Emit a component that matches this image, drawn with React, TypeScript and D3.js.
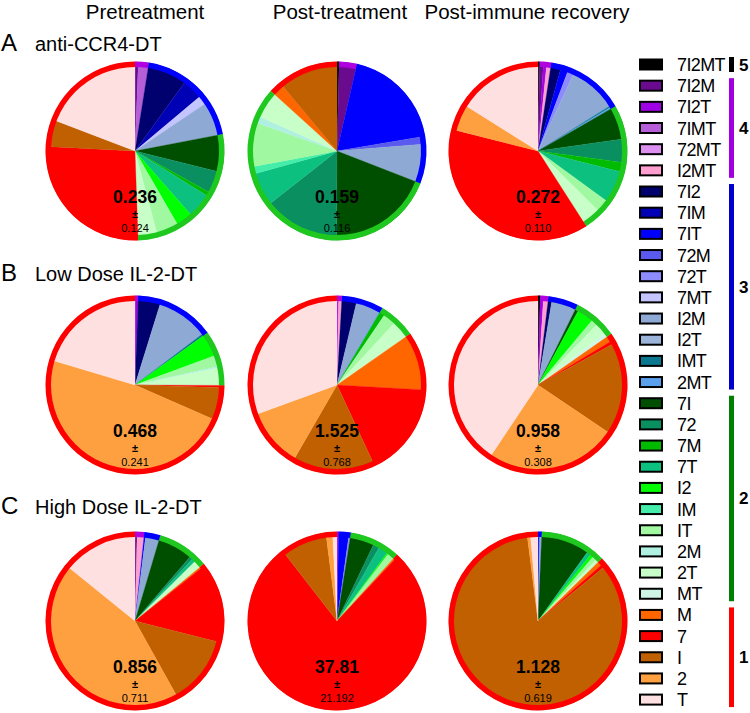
import React from "react";
import * as d3 from "d3";

const categories = ["7I2MT","7I2M","7I2T","7IMT","72MT","I2MT","7I2","7IM","7IT","72M","72T","7MT","I2M","I2T","IMT","2MT","7I","72","7M","7T","I2","IM","IT","2M","2T","MT","M","7","I","2","T"];
const catColors = ["#000000","#6a0a8e","#a000e6","#b65ed8","#dd90f0","#ff9fcf","#00006e","#0000b4","#0000ff","#5a5aee","#8c8cff","#c4c4ff","#8eaad4","#9cb4da","#0a7890","#5aa0ec","#004f00","#0a9060","#00bb00","#0cc080","#00ff00","#44eeaa","#a0f8a0","#b0f0e0","#c8ffc8","#cff5e5","#ff6600","#ff0000","#c06000","#ffa040","#ffe0e0"];
const catGroups = [5,4,4,4,4,4,3,3,3,3,3,3,3,3,3,3,2,2,2,2,2,2,2,2,2,2,1,1,1,1,1];
const groupLabels = [5,4,3,2,1];
const groupBarColors = ["#000000","#a000e0","#0000cc","#008000","#ff0000"];
const groupBorderColors = ["#000000","#b000e0","#0000ff","#1ec81e","#ff0000"];

const colTitles = ["Pretreatment","Post-treatment","Post-immune recovery"];
const rowLetters = ["A","B","C"];
const rowTitles = ["anti-CCR4-DT","Low Dose IL-2-DT","High Dose IL-2-DT"];

type Pair = [string, number];
const pieA1: Pair[] = [["7I2M",0.6],["7IMT",1.9],["7I2",7.5],["7IM",3.9],["7MT",1.7],["I2M",6.4],["7I",6.9],["72",4.2],["7M",0.8],["7T",4.7],["I2",3.1],["IT",4.2],["2T",3.6],["7",26.4],["I",5.0],["T",19.2]];
const pieA2: Pair[] = [["7I2MT",0.4],["7I2M",3.2],["7IT",18.8],["72M",1.4],["I2M",7.2],["7I",19.2],["72",14.4],["7T",6.3],["IM",1.4],["IT",8.3],["2M",1.3],["2T",5.1],["M",2.2],["I",11.1]];
const pieA3: Pair[] = [["7I2MT",0.3],["7I2M",0.7],["7I2T",0.6],["I2MT",0.8],["7I2",1.9],["7IT",1.4],["72T",1.2],["I2M",9.2],["IMT",0.3],["2MT",0.3],["7I",6.1],["72",4.4],["7M",1.8],["7T",6.1],["IT",2.4],["2T",3.5],["7",38.1],["2",5.0],["T",16.1]];
const pieB1: Pair[] = [["7I2T",0.6],["7I2",4.2],["I2M",9.9],["IMT",0.4],["I2",4.3],["IT",2.1],["2M",0.3],["2T",3.3],["7",0.4],["I",6.1],["2",48.1],["T",20.4]];
const pieB2: Pair[] = [["7I2T",0.3],["I2MT",0.6],["7I2",2.8],["I2M",4.6],["2MT",0.2],["7M",1.0],["IT",2.4],["2T",3.4],["M",10.6],["7",17.2],["I",15.3],["2",11.1],["T",30.6]];
const pieB3: Pair[] = [["7I2MT",0.4],["7I2T",0.6],["I2MT",0.9],["7I2",0.7],["I2M",4.7],["7I",0.6],["I2",3.2],["IT",1.2],["2T",2.2],["MT",0.8],["M",1.1],["7",0.6],["I",17.4],["2",24.9],["T",40.6]];
const pieC1: Pair[] = [["7I2M",0.4],["I2MT",1.3],["7IT",0.3],["I2M",2.6],["7I",6.7],["72",0.6],["7T",0.7],["2T",1.4],["M",0.3],["7",14.7],["I",13.0],["2",44.0],["T",14.2]];
const pieC2: Pair[] = [["7I2T",0.3],["7IT",1.9],["72T",0.3],["7I",4.6],["72",1.2],["7T",1.8],["I2",0.3],["IT",1.3],["M",0.3],["7",77.5],["I",8.5],["2",1.2],["T",0.8]];
const pieC3: Pair[] = [["7IT",0.3],["I2M",0.4],["7I",9.2],["7T",0.8],["I2",0.6],["IT",0.8],["2T",0.6],["M",0.8],["7",0.6],["I",84.0],["2",0.6],["T",1.4]];
const pies = [pieA1,pieA2,pieA3,pieB1,pieB2,pieB3,pieC1,pieC2,pieC3];
const means = ["0.236","0.159","0.272","0.468","1.525","0.958","0.856","37.81","1.128"];
const sds = ["0.124","0.116","0.110","0.241","0.768","0.308","0.711","21.192","0.619"];

const FONT = "'Liberation Sans', Arial, Helvetica, sans-serif";

export default function App() {
  const W = 750, H = 713;
  const colX = [135, 337, 538];
  const rowY = [151, 385, 621];
  const R = 89;
  const pieGen = d3.pie<number>().sort(null).value((d) => d).startAngle(0).endAngle(2 * Math.PI);
  const sliceArc = d3.arc<any>().innerRadius(0).outerRadius(R);
  const borderArc = d3.arc<any>().innerRadius(R - 5).outerRadius(R + 0.5);

  const legY0 = 64.5, legStep = 21.17;

  return (
    <svg width={W} height={H} style={{ position: "absolute", left: 0, top: 0 }} fontFamily={FONT}>
      {colTitles.map((t, i) => (
        <text key={t} x={[145, 340, 527][i]} y={19} fontSize={20.5} textAnchor="middle" fill="#000">{t}</text>
      ))}
      {rowLetters.map((l, i) => (
        <g key={l}>
          <text x={1} y={[51, 281, 514][i]} fontSize={24} fill="#000">{l}</text>
          <text x={35} y={[51, 281, 514][i]} fontSize={20} fill="#000">{rowTitles[i]}</text>
        </g>
      ))}
      {pies.map((pairs, pi) => {
        const vals = categories.map((c) => {
          const f = pairs.find((p) => p[0] === c);
          return f ? f[1] : 0;
        });
        const arcs = pieGen(vals);
        const cx = colX[pi % 3], cy = rowY[Math.floor(pi / 3)];
        const borders = groupLabels.map((g, gi) => {
          const ga = arcs.filter((a, k) => catGroups[k] === g && vals[k] > 0);
          if (!ga.length) return null;
          const s = d3.min(ga, (a) => a.startAngle)!;
          const e = d3.max(ga, (a) => a.endAngle)!;
          return <path key={g} d={borderArc({ startAngle: s, endAngle: e })!} fill={groupBorderColors[gi]} />;
        });
        return (
          <g key={pi} transform={`translate(${cx},${cy})`}>
            {arcs.map((a, k) => vals[k] > 0 ? (
              <path key={k} d={sliceArc(a)!} fill={catColors[k]} stroke={catColors[k]} strokeWidth={0.3} />
            ) : null)}
            {borders}
            <text x={0} y={52} textAnchor="middle" fontSize={17.5} fontWeight="bold" fill="#000">{means[pi]}</text>
            <text x={0} y={67} textAnchor="middle" fontSize={11} fontWeight="bold" fill="#000">±</text>
            <text x={0} y={81} textAnchor="middle" fontSize={11} fill="#000">{sds[pi]}</text>
          </g>
        );
      })}
      {categories.map((c, i) => {
        const y = legY0 + legStep * i;
        return (
          <g key={c}>
            <rect x={640} y={y - 5} width={22} height={10} fill={catColors[i]} stroke="#000" strokeWidth={2} />
            <text x={677} y={y + 6.5} fontSize={18} letterSpacing={-0.6} fill="#000">{c}</text>
          </g>
        );
      })}
      {groupLabels.map((g, gi) => {
        const idx = categories.map((c, k) => k).filter((k) => catGroups[k] === g);
        const y1 = legY0 + legStep * idx[0] - 7.5;
        const y2 = legY0 + legStep * idx[idx.length - 1] + 7.5;
        return (
          <g key={g}>
            <rect x={729} y={y1} width={5} height={y2 - y1} fill={groupBarColors[gi]} />
            <text x={739} y={(y1 + y2) / 2 + 6} fontSize={17} fontWeight="bold" fill="#000">{g}</text>
          </g>
        );
      })}
    </svg>
  );
}
